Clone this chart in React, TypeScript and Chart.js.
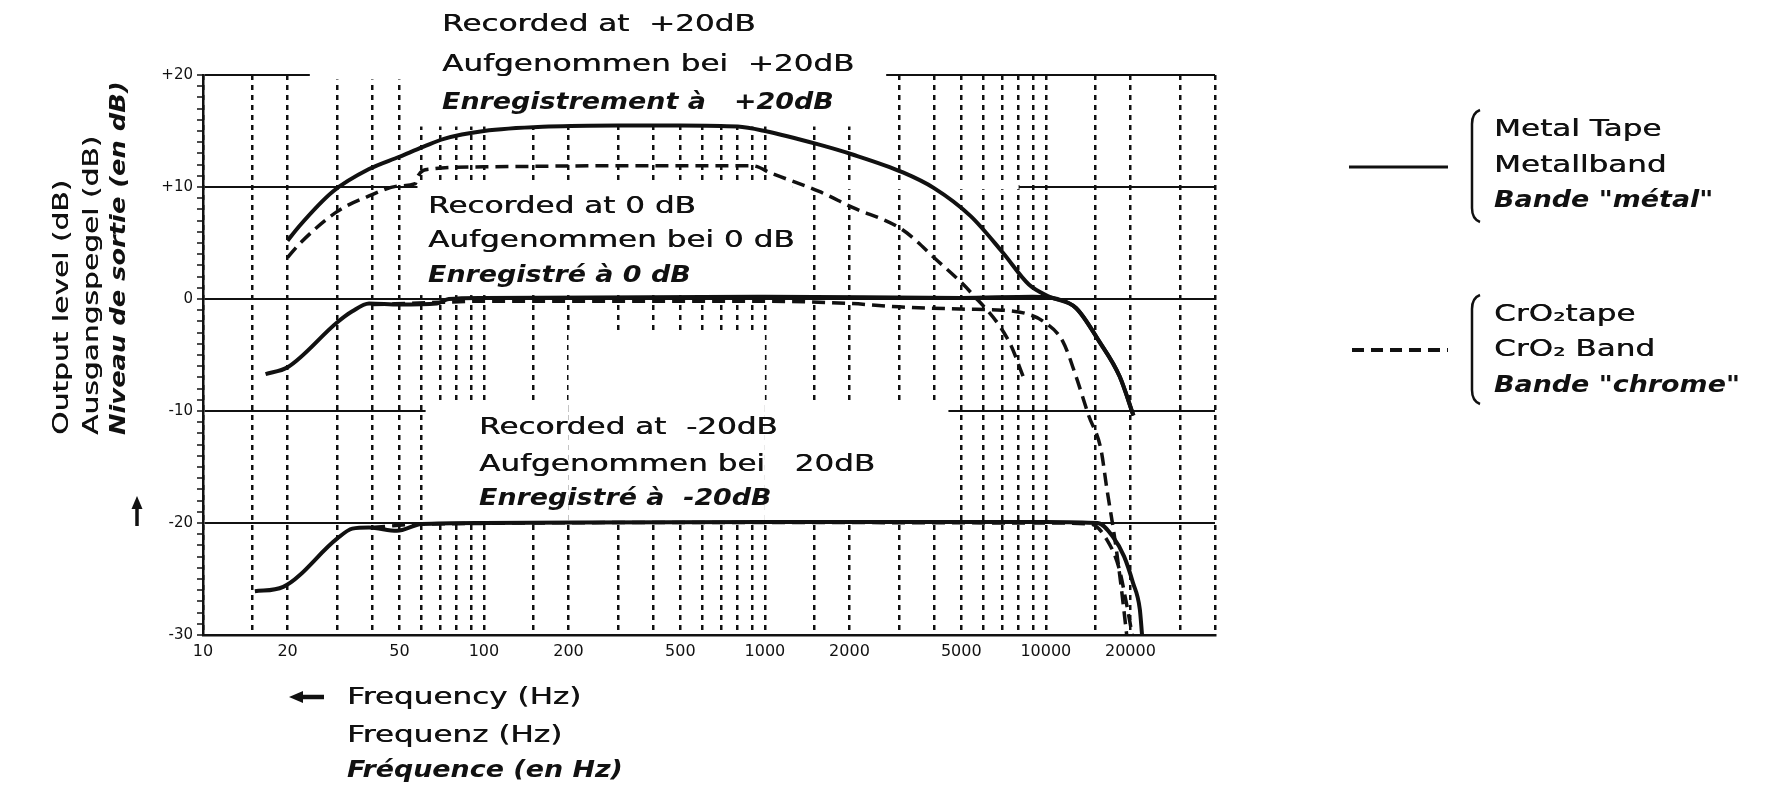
import React, { useEffect, useRef } from 'react';
import { Chart, registerables } from 'chart.js';

Chart.register(...registerables);

// ---------- axis data ----------
const xGridValues = [10, 15, 20, 30, 40, 50, 60, 70, 80, 90, 100, 150, 200, 300, 400, 500, 600, 700, 800, 900,
  1000, 1500, 2000, 3000, 4000, 5000, 6000, 7000, 8000, 9000, 10000, 15000, 20000, 30000, 40000];
const xLabelValues = [10, 20, 50, 100, 200, 500, 1000, 2000, 5000, 10000, 20000];
const yTickValues = [20, 10, 0, -10, -20, -30];
const yTickLabels = ['+20', '+10', '0', '-10', '-20', '-30'];

// ---------- series (frequency Hz / output level dB) ----------
const metalPlus20Freq = [20, 22, 29, 39, 50, 61, 72, 100, 170, 300, 500, 800, 1000, 1550, 2050, 3100, 4000, 5400, 7000, 8700, 10300, 12800, 15500, 18300, 20500];
const metalPlus20Level = [5.2, 6.5, 9.6, 11.6, 12.7, 13.6, 14.3, 15.0, 15.4, 15.5, 15.5, 15.4, 15.0, 13.8, 12.9, 11.3, 9.9, 7.4, 4.2, 1.3, 0.2, -0.8, -3.8, -6.9, -10.4];

const chromePlus20Freq = [20, 22, 30, 39, 50, 57, 58, 64, 100, 300, 900, 1060, 1560, 2040, 3080, 4040, 5400, 7400, 8300];
const chromePlus20Level = [3.7, 4.9, 7.8, 9.2, 10.1, 10.3, 10.9, 11.6, 11.8, 11.9, 11.9, 11.2, 9.6, 8.2, 6.2, 3.6, 0.6, -3.8, -6.9];

const metalZeroFreq = [16.7, 20, 30, 34, 39, 50, 68, 75, 100, 1000, 5000, 9000, 11000, 12800, 15500, 18300, 20500];
const metalZeroLevel = [-6.7, -6.1, -2.1, -1.1, -0.4, -0.5, -0.4, 0, 0.1, 0.2, 0.1, 0.2, 0, -0.8, -3.8, -6.9, -10.4];

const chromeZeroFreq = [40, 70, 100, 1000, 2000, 3000, 5000, 7000, 8500, 9800, 11500, 12800, 14200, 15700, 16500, 17500, 18500, 19400];
const chromeZeroLevel = [-0.5, -0.3, -0.2, -0.2, -0.4, -0.7, -0.9, -1.0, -1.3, -2.0, -3.8, -6.9, -10.4, -13.4, -17, -21, -25.5, -30];

const metalMinus20Freq = [15.3, 19.3, 30, 34, 39, 49, 60, 100, 1000, 10000, 15300, 17300, 19000, 20400, 21600, 22000];
const metalMinus20Level = [-26.1, -25.7, -21.4, -20.5, -20.4, -20.7, -20.1, -20, -19.9, -19.9, -20, -21.2, -23, -25.3, -27.7, -30];

const chromeMinus20Freq = [40, 60, 1000, 10000, 14500, 16500, 18200, 19300, 20300];
const chromeMinus20Level = [-20.4, -20.1, -19.95, -20, -20.1, -21.5, -24, -27, -30];

// ---------- texts ----------
const annotPlus20 = ['Recorded at  +20dB', 'Aufgenommen bei  +20dB', 'Enregistrement à   +20dB'];
const annotZero = ['Recorded at 0 dB', 'Aufgenommen bei 0 dB', 'Enregistré à 0 dB'];
const annotMinus20 = ['Recorded at  -20dB', 'Aufgenommen bei   20dB', 'Enregistré à  -20dB'];
const yTitle = ['Output level (dB)', 'Ausgangspegel (dB)', 'Niveau de sortie (en dB)'];
const xTitle = ['Frequency (Hz)', 'Frequenz (Hz)', 'Fréquence (en Hz)'];
const legendMetal = ['Metal Tape', 'Metallband', 'Bande "métal"'];
const legendChrome = ['CrO₂tape', 'CrO₂ Band', 'Bande "chrome"'];

// white areas where the printed grid is interrupted (freq1, freq2, dB1, dB2)
const gridMasks = [
  [24, 2700, 19.6, 20.6],
  [52, 2700, 15.4, 20.6],
  [58, 1250, 0.35, 10.6],
  [1250, 8000, 9.8, 10.2],
  [62, 200, -19.75, -9.3],
  [200, 1000, -19.75, -3.0],
  [1000, 4500, -19.75, -9.3],
];

const INK = '#111';
const FONT = '"DejaVu Sans", sans-serif';

function toPoints(fs: number[], ls: number[]) {
  return fs.map((f, i) => ({ x: f, y: ls[i] }));
}

function drawText(ctx: CanvasRenderingContext2D, str: string, x: number, y: number,
  o: { size: number; emph?: boolean; rotate?: number; align?: CanvasTextAlign }) {
  ctx.save();
  ctx.translate(x, y);
  if (o.rotate) ctx.rotate(o.rotate);
  ctx.scale(o.emph ? 1.17 : 1.35, 1);
  ctx.font = `${o.emph ? 'italic bold ' : ''}${o.size}px ${FONT}`;
  ctx.textAlign = o.align || 'left';
  ctx.textBaseline = 'middle';
  ctx.fillStyle = INK;
  ctx.fillText(str, 0, 0);
  if (!o.emph) {
    // slightly heavier, like the printed original
    ctx.fillText(str, 0.4, 0);
  }
  ctx.restore();
}

function drawGroup(ctx: CanvasRenderingContext2D, lines: string[], x: number, ys: number[], size: number) {
  lines.forEach((l, i) => drawText(ctx, l, x, ys[i], { size, emph: i === 2 }));
}

function drawBracket(ctx: CanvasRenderingContext2D, x: number, top: number, bottom: number) {
  ctx.save();
  ctx.strokeStyle = INK;
  ctx.lineWidth = 2.5;
  ctx.beginPath();
  ctx.moveTo(x + 8, top);
  ctx.quadraticCurveTo(x, top + 3, x, top + 14);
  ctx.lineTo(x, bottom - 14);
  ctx.quadraticCurveTo(x, bottom - 3, x + 8, bottom);
  ctx.stroke();
  ctx.restore();
}

const decorPlugin = {
  id: 'decor',
  beforeDatasetsDraw(chart: any) {
    const { ctx, scales } = chart;
    const xs = scales.x, ys = scales.y;
    ctx.save();
    ctx.fillStyle = '#fff';
    for (const m of gridMasks) {
      const x1 = xs.getPixelForValue(m[0]);
      const x2 = xs.getPixelForValue(m[1]);
      const y1 = ys.getPixelForValue(m[3]);
      const y2 = ys.getPixelForValue(m[2]);
      ctx.fillRect(x1, y1, x2 - x1, y2 - y1);
    }
    ctx.restore();
  },
  afterDraw(chart: any) {
    const ctx: CanvasRenderingContext2D = chart.ctx;
    // in-plot annotations
    drawGroup(ctx, annotPlus20, 442, [25, 65, 103], 23);
    drawGroup(ctx, annotZero, 428, [207, 241, 276], 23);
    drawGroup(ctx, annotMinus20, 479, [428, 465, 499], 23);

    // y-axis title (rotated)
    const yxs = [62, 92, 119];
    yTitle.forEach((t, i) => drawText(ctx, t, yxs[i], 435, { size: 22, emph: i === 2, rotate: -Math.PI / 2 }));
    // up arrow
    ctx.save();
    ctx.strokeStyle = INK; ctx.fillStyle = INK; ctx.lineWidth = 3.5;
    ctx.beginPath(); ctx.moveTo(137, 526); ctx.lineTo(137, 506); ctx.stroke();
    ctx.beginPath(); ctx.moveTo(137, 496); ctx.lineTo(131.5, 509); ctx.lineTo(142.5, 509); ctx.closePath(); ctx.fill();
    // left arrow for x title
    ctx.lineWidth = 4.5;
    ctx.beginPath(); ctx.moveTo(324, 697); ctx.lineTo(300, 697); ctx.stroke();
    ctx.beginPath(); ctx.moveTo(289, 697); ctx.lineTo(303, 691); ctx.lineTo(303, 703); ctx.closePath(); ctx.fill();
    ctx.restore();

    // x-axis title
    drawGroup(ctx, xTitle, 347, [698, 736, 771], 23);

    // legend
    ctx.save();
    ctx.strokeStyle = INK;
    ctx.lineWidth = 3;
    ctx.beginPath(); ctx.moveTo(1349, 167); ctx.lineTo(1448, 167); ctx.stroke();
    ctx.lineWidth = 4;
    ctx.setLineDash([12, 7]);
    ctx.beginPath(); ctx.moveTo(1352, 350); ctx.lineTo(1448, 350); ctx.stroke();
    ctx.restore();
    drawBracket(ctx, 1472, 110, 222);
    drawBracket(ctx, 1472, 295, 404);
    drawGroup(ctx, legendMetal, 1494, [130, 166, 201], 23);
    drawGroup(ctx, legendChrome, 1494, [315, 350, 386], 23);
  },
};

export default function App() {
  const canvasRef = useRef<HTMLCanvasElement | null>(null);

  useEffect(() => {
    if (!canvasRef.current) return;
    Chart.defaults.font.family = FONT;
    Chart.defaults.color = INK;

    const solid = (fs: number[], ls: number[], label: string) => ({
      label,
      data: toPoints(fs, ls),
      borderColor: INK,
      borderWidth: 4,
      pointRadius: 0,
      fill: false,
      cubicInterpolationMode: 'monotone' as const,
      borderJoinStyle: 'round' as const,
    });
    const dashed = (fs: number[], ls: number[], label: string) => ({
      ...solid(fs, ls, label),
      borderWidth: 3.5,
      borderDash: [13, 7],
    });

    const chart = new Chart(canvasRef.current, {
      type: 'line',
      data: {
        datasets: [
          solid(metalPlus20Freq, metalPlus20Level, 'Metal +20 dB'),
          dashed(chromePlus20Freq, chromePlus20Level, 'CrO2 +20 dB'),
          solid(metalZeroFreq, metalZeroLevel, 'Metal 0 dB'),
          dashed(chromeZeroFreq, chromeZeroLevel, 'CrO2 0 dB'),
          solid(metalMinus20Freq, metalMinus20Level, 'Metal -20 dB'),
          dashed(chromeMinus20Freq, chromeMinus20Level, 'CrO2 -20 dB'),
        ],
      },
      options: {
        animation: false,
        responsive: false,
        maintainAspectRatio: false,
        devicePixelRatio: 1,
        layout: { padding: { left: 0, right: 573, top: 75, bottom: 0 } },
        plugins: { legend: { display: false }, tooltip: { enabled: false } },
        scales: {
          x: {
            type: 'logarithmic',
            min: 10,
            max: 40000,
            afterBuildTicks: (s: any) => { s.ticks = xGridValues.map((v) => ({ value: v })); },
            afterFit: (s: any) => { s.height = 156; },
            ticks: {
              autoSkip: false,
              maxRotation: 0,
              padding: 7,
              font: { size: 16 },
              color: INK,
              callback: (v: any) => (xLabelValues.includes(Number(v)) ? String(v) : ''),
            },
            grid: { color: INK, lineWidth: 2.5, drawTicks: false },
            border: { color: INK, width: 2.5, dash: [5, 5] },
          },
          y: {
            type: 'linear',
            min: -30,
            max: 20,
            afterBuildTicks: (s: any) => {
              const t = [];
              for (let v = -30; v <= 20; v++) t.push({ value: v });
              s.ticks = t;
            },
            afterFit: (s: any) => { s.width = 203; },
            ticks: {
              autoSkip: false,
              padding: 4,
              font: { size: 15 },
              color: INK,
              callback: (v: any) => {
                const i = yTickValues.indexOf(Number(v));
                return i >= 0 ? yTickLabels[i] : '';
              },
            },
            grid: {
              color: (c: any) => (c.tick && Math.round(c.tick.value) % 10 === 0 ? INK : 'rgba(0,0,0,0)'),
              lineWidth: 2,
              tickColor: INK,
              tickLength: 6,
              tickWidth: 1.5,
            },
            border: { color: INK, width: 2.5 },
          },
        },
      },
      plugins: [decorPlugin],
    } as any);

    return () => chart.destroy();
  }, []);

  return (
    <div style={{ position: 'absolute', left: 0, top: 0, width: 1788, height: 791, background: '#fff' }}>
      <canvas ref={canvasRef} width={1788} height={791} style={{ width: 1788, height: 791, display: 'block' }} />
    </div>
  );
}
